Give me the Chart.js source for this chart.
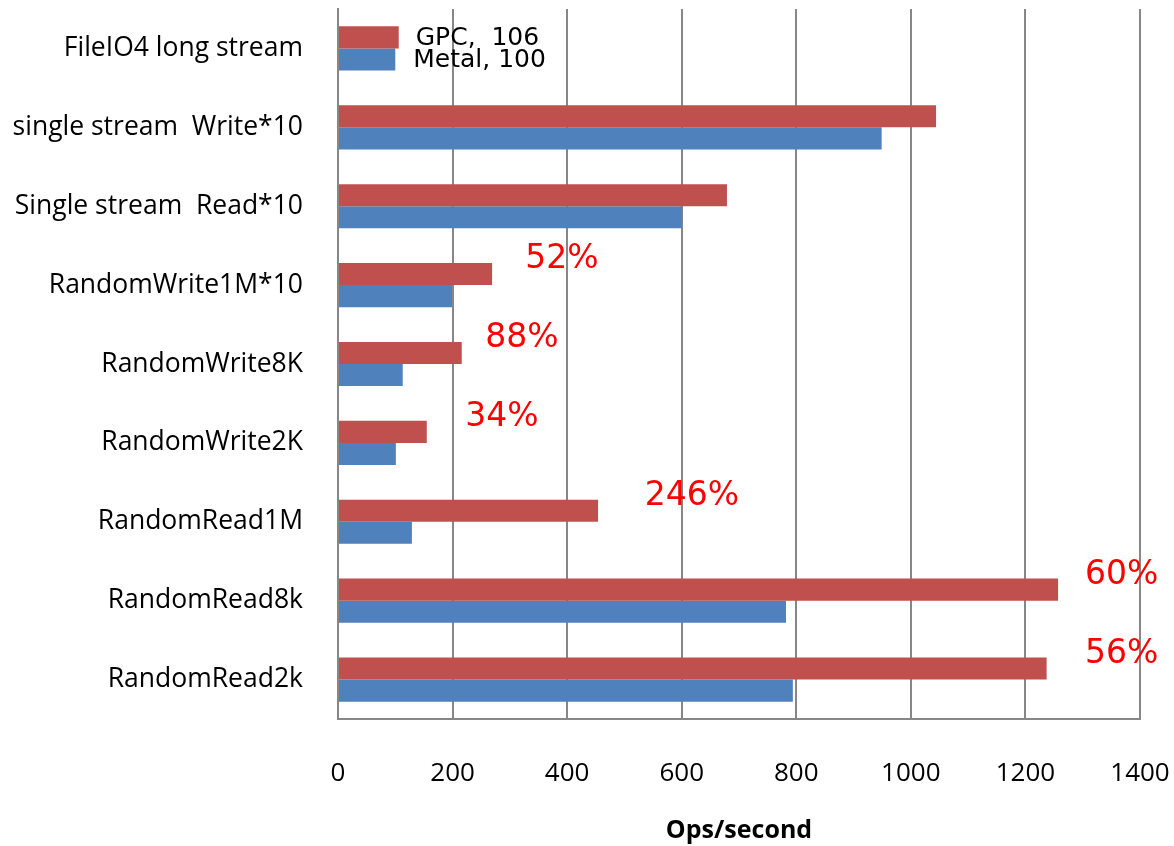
<!DOCTYPE html>
<html>
<head>
<meta charset="utf-8">
<script src="https://cdn.jsdelivr.net/npm/chart.js@4"></script>
<style>
  body { margin: 0; background: #fff; }
  #wrap { width: 1174px; height: 846px; }
</style>
</head>
<body>
<div id="wrap"><canvas id="canvasBars" width="1174" height="846"></canvas></div>
<script>
// categories, top to bottom
var categories = [
  "FileIO4 long stream",
  "single stream  Write*10",
  "Single stream  Read*10",
  "RandomWrite1M*10",
  "RandomWrite8K",
  "RandomWrite2K",
  "RandomRead1M",
  "RandomRead8k",
  "RandomRead2k"
];
var gpcValues   = [106, 1044, 679, 269, 216, 155, 454, 1257, 1237];
var metalValues = [100,  949, 600, 199, 113, 101, 129,  782,  794];
var xTicks = [0, 200, 400, 600, 800, 1000, 1200, 1400];

// red notes next to the bars
var noteText     = ["52%", "88%", "34%", "246%", "60%", "56%"];
var noteCategory = [3, 4, 5, 6, 7, 8];
var noteValue    = [391, 321, 286, 618, 1368, 1368];

var gridGray = "#878787";

// draws the "GPC, 106" / "Metal, 100" labels and the red percentages
var notesPlugin = {
  id: "notes",
  afterDatasetsDraw: function(chart) {
    var ctx = chart.ctx;
    var xs = chart.scales.x, ys = chart.scales.y;
    ctx.save();
    ctx.textBaseline = "middle";
    ctx.textAlign = "left";
    ctx.fillStyle = "#000";
    ctx.font = "25px 'DejaVu Sans'";
    var g = chart.getDatasetMeta(0).data[0];
    var m = chart.getDatasetMeta(1).data[0];
    ctx.fillText("GPC,  " + gpcValues[0], g.x + 17, g.y + 1);
    ctx.fillText("Metal, " + metalValues[0], m.x + 18, m.y + 1);

    ctx.fillStyle = "#ff0000";
    ctx.textAlign = "center";
    ctx.font = "33px 'DejaVu Sans'";
    var band = ys.getPixelForValue(1) - ys.getPixelForValue(0);
    for (var i = 0; i < noteText.length; i++) {
      var px = xs.getPixelForValue(noteValue[i]);
      var py = ys.getPixelForValue(noteCategory[i]) - band * 0.32;
      ctx.fillText(noteText[i], px, py);
    }
    ctx.restore();
  }
};

var ctx = document.getElementById("canvasBars").getContext("2d");
window.myBar = new Chart(ctx, {
  type: "bar",
  data: {
    labels: categories,
    datasets: [
      { label: "GPC", backgroundColor: "#C0504D", data: gpcValues,
        categoryPercentage: 0.56, barPercentage: 1.0 },
      { label: "Metal", backgroundColor: "#4F81BD", data: metalValues,
        categoryPercentage: 0.56, barPercentage: 1.0 }
    ]
  },
  options: {
    indexAxis: "y",
    responsive: false,
    animation: false,
    layout: { padding: { left: 0, right: 34, top: 9, bottom: 0 } },
    plugins: { legend: { display: false }, tooltip: { enabled: false } },
    scales: {
      x: {
        min: 0, max: 1400,
        afterBuildTicks: function(scale) {
          scale.ticks = xTicks.map(function(v) { return { value: v }; });
        },
        afterFit: function(scale) {
          scale.height = 127;
          scale.paddingLeft = 0; scale.paddingRight = 0;
        },
        grid: { color: gridGray, lineWidth: 2, drawTicks: false },
        border: { color: gridGray, width: 2 },
        ticks: { color: "#000", padding: 39, maxRotation: 0,
                 callback: function(v) { return String(v); },
                 font: { family: "Open Sans", size: 26 } },
        title: { display: true, text: "Ops/second", color: "#000",
                 padding: { top: 0, bottom: 0 },
                 font: { family: "Open Sans", size: 25, weight: "bold" } }
      },
      y: {
        afterFit: function(scale) {
          scale.width = 338;
          scale.paddingTop = 0; scale.paddingBottom = 0;
        },
        grid: { display: false },
        border: { color: gridGray, width: 2 },
        ticks: { color: "#000", padding: 27,
                 font: { family: "Open Sans", size: 26.5 } }
      }
    }
  },
  plugins: [notesPlugin]
});
</script>
</body>
</html>
